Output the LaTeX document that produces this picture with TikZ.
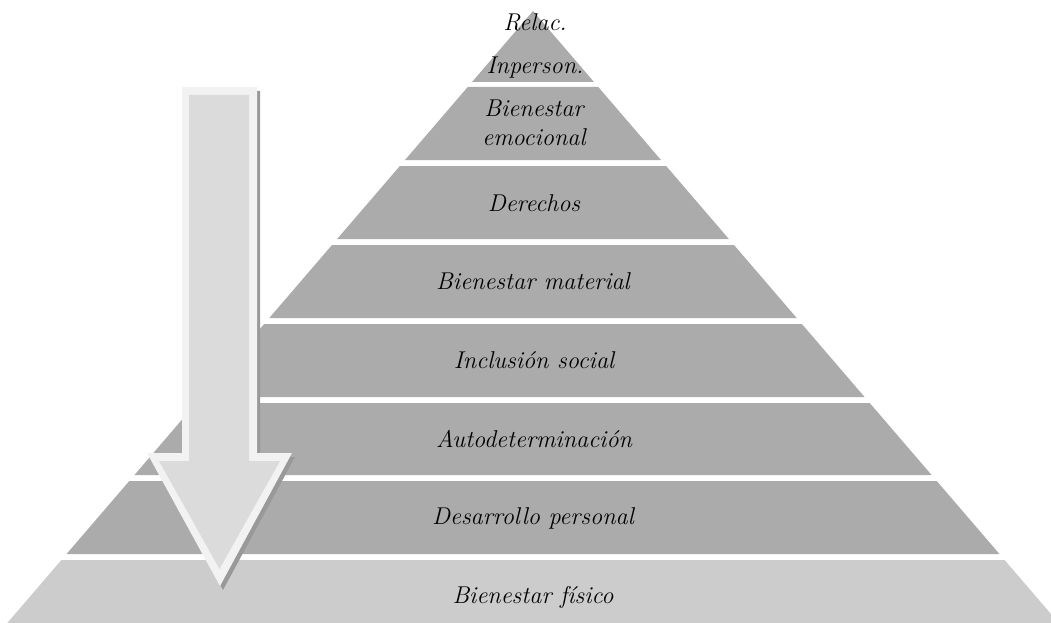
\documentclass[tikz,border=0pt]{standalone}
\usepackage{fontspec}
\begin{document}
\begin{tikzpicture}[x=1pt,y=-1pt,
  tiertext/.style={font=\fontsize{24.3}{29}\selectfont\itshape, text=black, align=center, inner sep=0pt},
  tierfill/.style={fill=black!33},
  basefill/.style={fill=black!20},
  arrowborder/.style={fill=black!5},
  arrowbody/.style={fill=black!14},
  arrowshadow/.style={fill=black!40}]
\useasboundingbox (0,0) rectangle (1051,623);
\clip (0,0) rectangle (1051,623);
% pyramid: apex at (533,11), half-width grows 0.859 per unit of depth
\def\tierslope{0.859}
\foreach \ytop/\ybot/\st in {11/82/tierfill, 87/160/tierfill, 166/239/tierfill, 245/318/tierfill,
                             324/397/tierfill, 403/475/tierfill, 481/554/tierfill, 560/623/basefill}{
  \pgfmathsetmacro{\hwt}{(\ytop-11)*\tierslope}
  \pgfmathsetmacro{\hwb}{(\ybot-11)*\tierslope}
  \path[\st] (533-\hwt,\ytop) -- (533+\hwt,\ytop) -- (533+\hwb,\ybot) -- (533-\hwb,\ybot) -- cycle;
}
% labels
\node[tiertext] (relac) at (535,22) {Relac.};
\node[tiertext] (inperson) at (535,68) {Inperson.};
\node[tiertext] (emocional) at (534,123) {Bienestar\\emocional};
\node[tiertext] (derechos) at (534,203) {Derechos};
\node[tiertext] (material) at (533,281) {Bienestar material};
\node[tiertext] (inclusion) at (534,360) {Inclusión social};
\node[tiertext] (autodet) at (534,439) {Autodeterminación};
\node[tiertext] (desarrollo) at (533,518) {Desarrollo personal};
\node[tiertext] (fisico) at (533,597) {Bienestar físico};
% downward block arrow with shadow and light rim
\path[arrowshadow] (185,91) -- (260,91) -- (260,457) -- (295,457) -- (223,590) -- (150,457) -- (185,457) -- cycle;
\path[arrowborder] (182,87) -- (257,87) -- (257,453) -- (292,453) -- (220,586) -- (147,453) -- (182,453) -- cycle;
\path[arrowbody] (189,95) -- (249,95) -- (249,461) -- (280,461) -- (219.5,569) -- (159,461) -- (189,461) -- cycle;
\end{tikzpicture}
\end{document}
